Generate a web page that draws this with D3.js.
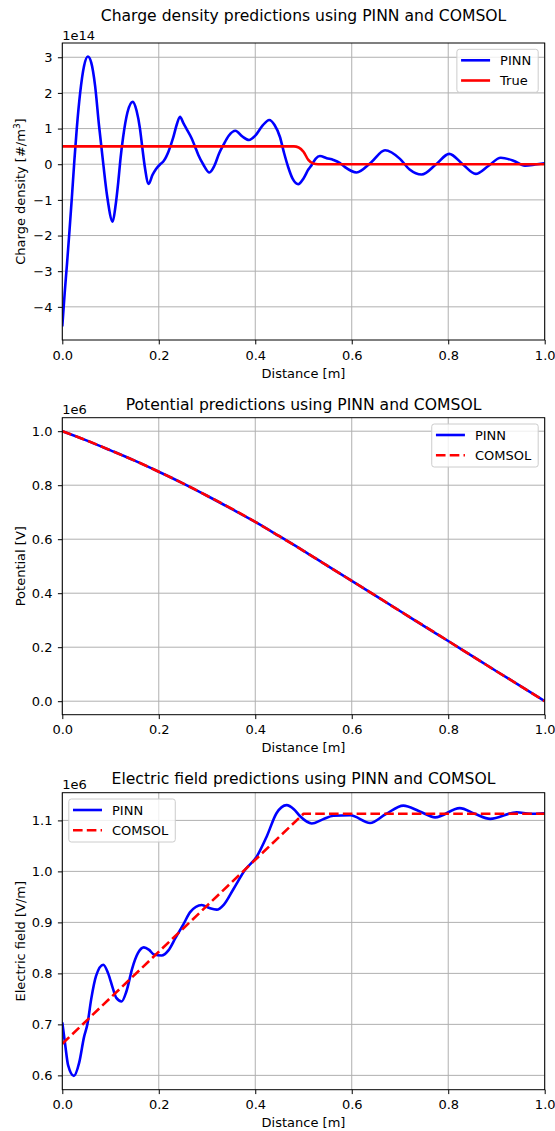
<!DOCTYPE html>
<html><head><meta charset="utf-8">
<script src="https://cdn.jsdelivr.net/npm/d3@7"></script>
<style>body{margin:0;background:#fff} text{font-family:"DejaVu Sans",sans-serif;fill:#000}</style>
</head><body><svg id="c" width="555" height="1131"></svg>
<script>
// ---------- data ----------
const xTicks = [0, 0.2, 0.4, 0.6, 0.8, 1.0];

// Charge density (x1e14)
const chargeX = [0,0.005,0.01,0.015,0.02,0.025,0.03,0.037,0.045,0.053,0.06,0.068,0.076,0.085,0.093,0.1045,0.110,0.116,0.121,0.126,0.135,0.146,0.154,0.161,0.166,0.171,0.179,0.187,0.194,0.203,0.209,0.215,0.22,0.23,0.237,0.244,0.251,0.258,0.268,0.275,0.282,0.292,0.305,0.315,0.325,0.334,0.345,0.359,0.373,0.387,0.40,0.415,0.429,0.44,0.451,0.46,0.468,0.478,0.489,0.50,0.51,0.517,0.525,0.534,0.548,0.562,0.575,0.586,0.61,0.64,0.669,0.70,0.72,0.745,0.775,0.802,0.83,0.857,0.883,0.909,0.935,0.959,0.98,1.0];
const chargePinn = [-4.55,-3.6,-2.75,-1.85,-0.9,0.1,1.0,2.0,2.75,3.02,2.85,2.2,1.1,0.0,-0.9,-1.61,-1.2,-0.5,0.2,0.75,1.45,1.75,1.5,1.0,0.45,-0.07,-0.55,-0.3,-0.14,0.0,0.07,0.2,0.35,0.75,1.1,1.33,1.15,0.98,0.73,0.5,0.26,0.0,-0.23,-0.05,0.3,0.54,0.8,0.94,0.78,0.68,0.8,1.08,1.24,1.1,0.77,0.3,-0.07,-0.42,-0.56,-0.4,-0.15,-0.02,0.15,0.23,0.17,0.12,0.04,-0.08,-0.23,0.05,0.39,0.15,-0.15,-0.29,0.0,0.29,0.0,-0.27,-0.05,0.18,0.1,-0.04,-0.01,0.03];
const trueX = [0,0.47,0.48,0.49,0.50,0.51,0.52,0.53,1.0];
const trueVals = [0.5,0.5,0.5,0.47,0.35,0.12,0.02,0.0,0.0];
const chargeTicks = [-4,-3,-2,-1,0,1,2,3];

// Potential (x1e6)
const potX = [0,0.05,0.1,0.15,0.2,0.25,0.3,0.35,0.4,0.45,0.5,0.55,0.6,0.65,0.7,0.75,0.8,0.85,0.9,0.95,1.0];
const potPinn = [1.0,0.966,0.929,0.891,0.850,0.807,0.761,0.713,0.664,0.611,0.557,0.501,0.446,0.390,0.334,0.278,0.223,0.167,0.111,0.056,0.0];
const potComsol = [1.0,0.966,0.929,0.891,0.850,0.807,0.761,0.714,0.664,0.611,0.557,0.501,0.446,0.390,0.334,0.279,0.223,0.167,0.111,0.056,0.0];
const potTicks = [0,0.2,0.4,0.6,0.8,1.0];

// Electric field (x1e6)
const fieldX = [0,0.006,0.012,0.024,0.035,0.045,0.052,0.06,0.07,0.085,0.095,0.105,0.112,0.123,0.133,0.145,0.157,0.169,0.18,0.19,0.206,0.22,0.235,0.251,0.265,0.289,0.305,0.32,0.335,0.354,0.379,0.403,0.424,0.444,0.465,0.48,0.493,0.517,0.54,0.562,0.597,0.638,0.67,0.707,0.74,0.773,0.824,0.855,0.887,0.942,0.97,1.0];
const fieldPinn = [0.704,0.66,0.62,0.599,0.625,0.675,0.70,0.75,0.795,0.817,0.80,0.77,0.752,0.745,0.765,0.81,0.84,0.851,0.846,0.837,0.835,0.845,0.87,0.896,0.92,0.934,0.928,0.925,0.935,0.964,1.003,1.029,1.069,1.114,1.130,1.122,1.108,1.094,1.102,1.109,1.110,1.095,1.112,1.129,1.118,1.106,1.124,1.113,1.103,1.116,1.113,1.114];
const fieldComsolX = [0,0.5,1.0];
const fieldComsol = [0.662,1.113,1.113];
const fieldTicks = [0.6,0.7,0.8,0.9,1.0,1.1];

// ---------- drawing ----------
const svg = d3.select("#c");
const L = 62.3, R = 544.7;
const x = d3.scaleLinear().domain([0,1]).range([L,R]);
const FS = 13, TFS = 15.6, LW = 2.6;
const minus = s => s.replace("-", "\u2212");

function panel(cfg, idx){
  const y = d3.scaleLinear().domain(cfg.domain).range([cfg.bottom, cfg.top]);
  const g = svg.append("g");
  const cid = "clip" + idx;
  svg.append("clipPath").attr("id", cid).append("rect")
    .attr("x", L).attr("y", cfg.top).attr("width", R-L).attr("height", cfg.bottom-cfg.top);
  // grid
  g.selectAll(".gx").data(xTicks).enter().append("line")
    .attr("x1", d=>x(d)).attr("x2", d=>x(d)).attr("y1", cfg.top).attr("y2", cfg.bottom)
    .attr("stroke", "#b0b0b0").attr("stroke-width", 1);
  g.selectAll(".gy").data(cfg.ticks).enter().append("line")
    .attr("x1", L).attr("x2", R).attr("y1", d=>y(d)).attr("y2", d=>y(d))
    .attr("stroke", "#b0b0b0").attr("stroke-width", 1);
  // series
  const pg = g.append("g").attr("clip-path", `url(#${cid})`);
  cfg.series.forEach(s=>{
    const pts = s.x.map((xv,i)=>[xv, s.y[i]]);
    const line = d3.line().x(d=>x(d[0])).y(d=>y(d[1])).curve(s.linear ? d3.curveLinear : d3.curveMonotoneX);
    pg.append("path").attr("d", line(pts)).attr("fill","none")
      .attr("stroke", s.color).attr("stroke-width", LW)
      .attr("stroke-dasharray", s.dash ? "9.6,4.2" : null)
      .attr("stroke-linejoin","round");
  });
  // axes
  const xa = g.append("g").attr("transform", `translate(0,${cfg.bottom})`)
    .call(d3.axisBottom(x).tickValues(xTicks).tickFormat(d3.format(".1f")).tickSize(4.4).tickPadding(4.4));
  const ya = g.append("g").attr("transform", `translate(${L},0)`)
    .call(d3.axisLeft(y).tickValues(cfg.ticks).tickFormat(d=>minus(cfg.fmt(d))).tickSize(4.4).tickPadding(5.5));
  [xa, ya].forEach(a=>{
    a.select(".domain").remove();
    a.selectAll("text").attr("font-size", FS).attr("font-family","DejaVu Sans").attr("fill","#000");
    a.selectAll("line").attr("stroke","#000").attr("stroke-width",1);
  });
  xa.selectAll("text").attr("dy", null).attr("y", 19.5);
  // frame
  g.append("rect").attr("x", L).attr("y", cfg.top).attr("width", R-L).attr("height", cfg.bottom-cfg.top)
    .attr("fill","none").attr("stroke","#000").attr("stroke-width",1);
  // labels
  g.append("text").attr("x", (L+R)/2).attr("y", cfg.bottom+37.5).attr("text-anchor","middle")
    .attr("font-size", FS).text("Distance [m]");
  const yl = g.append("text").attr("transform", `translate(25,${(cfg.top+cfg.bottom)/2}) rotate(-90)`)
    .attr("text-anchor","middle").attr("font-size", FS);
  cfg.ylabel(yl);
  g.append("text").attr("x", (L+R)/2).attr("y", cfg.titleY).attr("text-anchor","middle")
    .attr("font-size", TFS).text(cfg.title);
  g.append("text").attr("x", L).attr("y", cfg.top-3.3).attr("font-size", FS).text(cfg.offset);
  // legend
  const lg = g.append("g");
  const items = cfg.series;
  const tmp = lg.selectAll("text.t").data(items).enter().append("text").attr("font-size", FS).text(d=>d.name);
  let tw = 0; tmp.each(function(){ tw = Math.max(tw, this.getComputedTextLength()); });
  const bw = 4.2 + 29 + 10 + tw + 7, bh = 43;
  const bx = cfg.legend === "right" ? R - 6.5 - bw : L + 6.5;
  const by = cfg.top + 6.3;
  lg.insert("rect", "text").attr("x", bx).attr("y", by).attr("width", bw).attr("height", bh)
    .attr("rx", 2.5).attr("fill","#fff").attr("fill-opacity",0.8).attr("stroke","#cccccc").attr("stroke-width",1);
  items.forEach((s,i)=>{
    const cy = by + 11 + i*20.2;
    lg.append("line").attr("x1", bx+4.2).attr("x2", bx+4.2+29).attr("y1", cy).attr("y2", cy)
      .attr("stroke", s.color).attr("stroke-width", LW).attr("stroke-dasharray", s.dash ? "9.6,4.2" : null);
  });
  tmp.attr("x", bx+4.2+29+10).attr("y", (d,i)=> by + 11 + i*20.2 + 4.7);
  tmp.raise();
}

panel({
  top: 43, bottom: 340, domain: [-4.93, 3.40], ticks: chargeTicks, fmt: d3.format("d"),
  title: "Charge density predictions using PINN and COMSOL", titleY: 20.5, offset: "1e14",
  ylabel: t=>{ t.append("tspan").text("Charge density [#/m"); t.append("tspan").attr("font-size", 9).attr("dy", -5).text("3"); t.append("tspan").attr("dy", 5).text("]"); },
  legend: "right",
  series: [
    {name:"PINN", x: chargeX, y: chargePinn, color:"#0000ff"},
    {name:"True", x: trueX, y: trueVals, color:"#ff0000"}
  ]
}, 0);

panel({
  top: 417.7, bottom: 714.7, domain: [-0.05, 1.05], ticks: potTicks, fmt: d3.format(".1f"),
  title: "Potential predictions using PINN and COMSOL", titleY: 409.5, offset: "1e6",
  ylabel: t=>t.text("Potential [V]"),
  legend: "right",
  series: [
    {name:"PINN", x: potX, y: potPinn, color:"#0000ff"},
    {name:"COMSOL", x: potX, y: potComsol, color:"#ff0000", dash:true}
  ]
}, 1);

panel({
  top: 792.7, bottom: 1089.7, domain: [0.5719, 1.1543], ticks: fieldTicks, fmt: d3.format(".1f"),
  title: "Electric field predictions using PINN and COMSOL", titleY: 784, offset: "1e6",
  ylabel: t=>t.text("Electric field [V/m]"),
  legend: "left",
  series: [
    {name:"PINN", x: fieldX, y: fieldPinn, color:"#0000ff"},
    {name:"COMSOL", x: fieldComsolX, y: fieldComsol, color:"#ff0000", dash:true, linear:true}
  ]
}, 2);
</script></body></html>
